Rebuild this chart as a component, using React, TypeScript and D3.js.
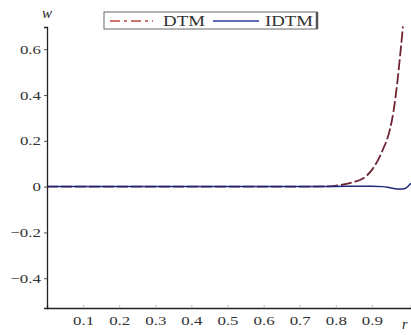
import * as d3 from "d3";
import React, { useRef, useEffect } from "react";

// values
const dtmX = [0, 0.2, 0.4, 0.6, 0.7, 0.78, 0.81, 0.85, 0.875, 0.9, 0.93, 0.95, 0.96, 0.97, 0.978, 0.986];
const dtmY = [0, 0, 0, 0, 0, 0.001, 0.006, 0.02, 0.035, 0.073, 0.16, 0.25, 0.33, 0.45, 0.57, 0.7];

const idtmX = [0, 0.2, 0.4, 0.6, 0.8, 0.86, 0.9, 0.93, 0.95, 0.97, 0.985, 0.995, 1.008];
const idtmY = [0, 0, 0, 0, 0.001, 0.002, 0.002, 0, -0.005, -0.01, -0.01, -0.005, 0.015];

const xTicks = [0.1, 0.2, 0.3, 0.4, 0.5, 0.6, 0.7, 0.8, 0.9];
const yTicks = [-0.4, -0.2, 0, 0.2, 0.4, 0.6];

const seriesNames = ["DTM", "IDTM"];

const width = 411;
const height = 335;
const serif = "'Liberation Serif', 'Times New Roman', serif";
const stretch = 1.3; // the source picture is squashed wider than tall

const App = () => {
  const xScale = d3.scaleLinear([0, 1.0083], [47, 411]);
  const yScale = d3.scaleLinear([-0.53, 0.697], [308, 27]);

  const line = d3
    .line<[number, number]>()
    .x((d) => xScale(d[0]))
    .y((d) => yScale(d[1]))
    .curve(d3.curveMonotoneX);

  const dtm = dtmX.map((x, i) => [x, dtmY[i]] as [number, number]);
  const idtm = idtmX.map((x, i) => [x, idtmY[i]] as [number, number]);

  const gx = useRef<SVGGElement>(null);
  const gy = useRef<SVGGElement>(null);

  useEffect(() => {
    const widen = (sel: any) =>
      sel.each(function (this: SVGTextElement) {
        const w = this.getComputedTextLength();
        d3.select(this).attr("textLength", w * stretch).attr("lengthAdjust", "spacingAndGlyphs");
      });

    const ax = d3.select(gx.current);
    ax.call(
      d3.axisBottom(xScale).tickValues(xTicks).tickSize(-3).tickPadding(8).tickFormat(d3.format(".1f"))
    );
    ax.attr("font-family", null);
    ax.select(".domain").attr("stroke", "#222").attr("stroke-width", 1.3);
    ax.selectAll(".tick line").attr("stroke", "#bbb");
    ax.selectAll("text").style("font-family", serif).style("font-size", "13px").attr("fill", "#333");
    widen(ax.selectAll("text"));

    const ay = d3.select(gy.current);
    ay.call(
      d3.axisLeft(yScale)
        .tickValues(yTicks)
        .tickSize(3)
        .tickPadding(3)
        .tickFormat((d) => (d === 0 ? "0" : d3.format(".1f")(d as number).replace("-", "\u2212")))
    );
    ay.attr("font-family", null);
    ay.select(".domain").attr("stroke", "#222").attr("stroke-width", 1.3);
    ay.selectAll(".tick line").attr("stroke", "#555");
    ay.selectAll("text").style("font-family", serif).style("font-size", "13px").attr("fill", "#333");
    widen(ay.selectAll("text"));
  }, []);

  return (
    <svg width={width} height={height} style={{ position: "absolute", left: 0, top: 0, background: "#fff" }}>
      <path d={line(dtm) ?? ""} fill="none" stroke="#6e2432" strokeWidth={1.8} strokeDasharray="11,3" />
      <path d={line(idtm) ?? ""} fill="none" stroke="#1c2a7a" strokeWidth={1.5} />

      <g ref={gx} transform="translate(0,308)" />
      <g ref={gy} transform="translate(47,0)" />

      <text x={47} y={18} textAnchor="middle" style={{ fontFamily: serif, fontStyle: "italic", fontSize: 15 }} fill="#222">
        w
      </text>
      <text x={402} y={329} textAnchor="start" style={{ fontFamily: serif, fontStyle: "italic", fontSize: 14 }} fill="#222">
        r
      </text>

      {/* legend */}
      <g>
        <rect x={104} y={12} width={213} height={17} fill="#fff" stroke="#666" strokeWidth={1} />
        <line x1={317} y1={12} x2={317} y2={29} stroke="#555" strokeWidth={2.5} />
        <line x1={110} y1={21} x2={153} y2={21} stroke="#c0463f" strokeWidth={1.3} strokeDasharray="10,4,3,4" />
        <text x={163} y={26} textLength={42} lengthAdjust="spacingAndGlyphs" style={{ fontFamily: serif, fontSize: 14 }} fill="#333">
          {seriesNames[0]}
        </text>
        <line x1={213} y1={21} x2={259} y2={21} stroke="#2b3a9a" strokeWidth={1.3} />
        <text x={265} y={26} textLength={48} lengthAdjust="spacingAndGlyphs" style={{ fontFamily: serif, fontSize: 14 }} fill="#333">
          {seriesNames[1]}
        </text>
      </g>
    </svg>
  );
};

export default App;
